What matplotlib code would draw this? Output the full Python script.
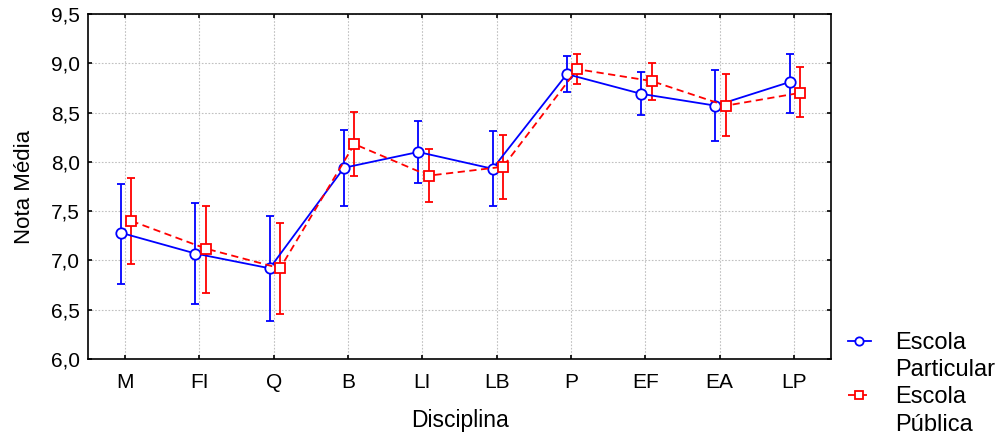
import numpy as np
import matplotlib.pyplot as plt
from matplotlib.lines import Line2D

plt.rcParams['font.family'] = ['Liberation Sans', 'DejaVu Sans']

disciplinas = ['M', 'FI', 'Q', 'B', 'LI', 'LB', 'P', 'EF', 'EA', 'LP']

# Escola Particular : moyenne, borne inf, borne sup
part_media = [7.28, 7.07, 6.92, 7.94, 8.10, 7.93, 8.89, 8.69, 8.57, 8.81]
part_inf = [6.76, 6.56, 6.39, 7.55, 7.79, 7.55, 8.71, 8.48, 8.21, 8.50]
part_sup = [7.78, 7.58, 7.45, 8.32, 8.41, 8.31, 9.07, 8.91, 8.93, 9.09]

# Escola Pública
pub_media = [7.40, 7.12, 6.92, 8.18, 7.86, 7.95, 8.94, 8.82, 8.57, 8.70]
pub_inf = [6.96, 6.67, 6.46, 7.86, 7.59, 7.62, 8.79, 8.63, 8.26, 8.45]
pub_sup = [7.84, 7.55, 7.38, 8.51, 8.13, 8.27, 9.09, 9.00, 8.89, 8.96]

yticks = [6.0, 6.5, 7.0, 7.5, 8.0, 8.5, 9.0, 9.5]

fig = plt.figure(figsize=(9.97, 4.37), dpi=100)
ax = fig.add_axes([0.0883, 0.1785, 0.7452, 0.7895])

x = np.arange(len(disciplinas))


def serie(media, inf, sup, dx, cor, marcador, estilo):
    media = np.array(media)
    erro = [media - np.array(inf), np.array(sup) - media]
    ax.errorbar(x + dx, media, yerr=erro, color=cor, ecolor=cor, elinewidth=1.3,
                capsize=3.2, capthick=1.3, linestyle='none', zorder=3)
    linha, = ax.plot(x + dx, media, color=cor, linestyle=estilo, linewidth=1.3,
                     marker=marcador, markersize=7.5, markerfacecolor='white',
                     markeredgecolor=cor, markeredgewidth=1.3, zorder=4)
    return linha


l_part = serie(part_media, part_inf, part_sup, -0.055, '#0000ff', 'o', '-')
l_pub = serie(pub_media, pub_inf, pub_sup, 0.085, '#ff0000', 's', (0, (4, 2.5)))

ax.set_xlim(-0.5, len(disciplinas) - 0.5)
ax.set_ylim(6.0, 9.5)
ax.set_xticks(x)
ax.set_xticklabels(disciplinas)
ax.set_yticks(yticks)
ax.set_yticklabels([f'{v:.1f}'.replace('.', ',') for v in yticks])
ax.grid(True, color='#c0c0c0', linestyle=(0, (1.5, 1.5)), linewidth=0.8)
ax.set_axisbelow(True)

ax.tick_params(axis='both', labelsize=15, length=3, width=1.2, direction='in',
               right=True, top=True)
ax.tick_params(axis='x', pad=10)
ax.tick_params(axis='y', pad=6)
for s in ax.spines.values():
    s.set_linewidth(1.2)

ax.set_xlabel('Disciplina', fontsize=16.5, labelpad=12)
ax.set_ylabel('Nota Média', fontsize=16, labelpad=11)

# legende : le marqueur aligne sur la premiere ligne du libelle
vazio = Line2D([], [], linestyle='none')
ax.legend([l_part, vazio, l_pub, vazio],
          ['Escola', 'Particular', 'Escola', 'Pública'],
          loc='upper left', bbox_to_anchor=(1.023, 0.078), frameon=False,
          fontsize=17, handlelength=0.95, handletextpad=1.05, labelspacing=0.22,
          borderpad=0, borderaxespad=0, markerscale=0.8)

fig.savefig('out.png', dpi=100)
plt.close('all')
